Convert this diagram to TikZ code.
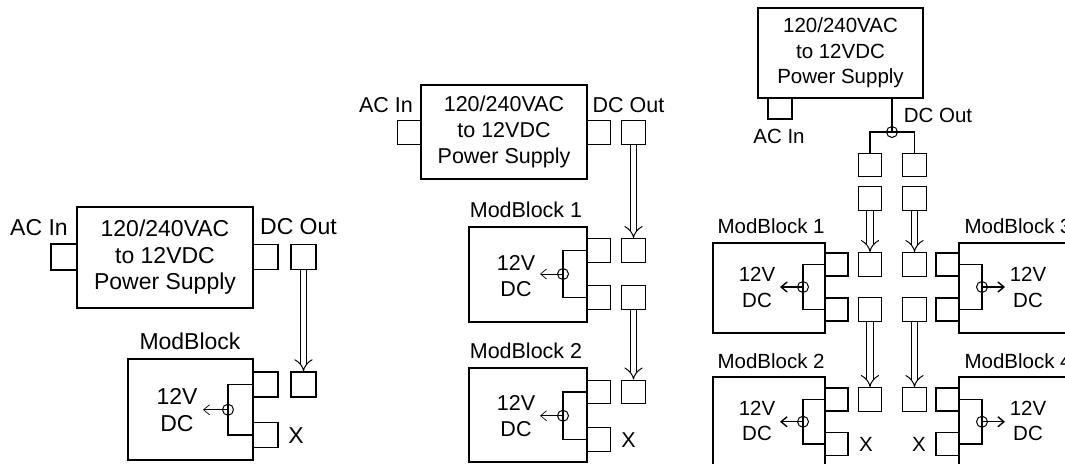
\documentclass[tikz,border=0pt]{standalone}
\usepackage{fontspec}
\setmainfont{Liberation Sans}
\usetikzlibrary{arrows.meta}

\tikzset{
  psbox/.style={draw, line width=1.3pt, align=center, inner sep=0pt},
  mbox/.style={draw, line width=1.3pt, inner sep=0pt},
  sock/.style={draw, line width=1.3pt, inner sep=0pt, minimum width=#1, minimum height=#1},
  jct/.style={draw, circle, line width=1pt, inner sep=0pt, minimum size=11pt},
  wire/.style={line width=1.3pt},
  feed/.style={double, double distance=5.5pt, line width=1pt, -{Implies[scale=1.1]}},
  tap/.style={line width=0.7pt, -{Straight Barb[length=6pt,width=10pt]}},
  tapC/.style={line width=1.4pt, -{Straight Barb[length=6pt,width=10pt]}},
  fA/.style={font=\fontsize{23}{26.5}\selectfont},
  fB/.style={font=\fontsize{21.5}{26}\selectfont},
  fC/.style={font=\fontsize{20.5}{25.5}\selectfont},
}

\begin{document}
\begin{tikzpicture}[x=1pt,y=-1pt]
\clip (0,0) rectangle (1065,463);

\node[psbox, fA, minimum width=176pt, minimum height=101pt] (ps1) at (165,257.5) {120/240VAC\\to 12VDC\\Power Supply};
\node[sock=26pt] (ac1) at (64,257) {};
\node[sock=25pt] (dc1) at (265.5,257) {};
\node[sock=25pt] (pl1a) at (303.5,257) {};
\node[fA, anchor=base] (acl1) at (39,235) {AC In};
\node[fA, anchor=base] (dcl1) at (298.5,234) {DC Out};

\node[mbox, minimum width=125pt, minimum height=101pt] (mb1) at (190.5,409.5) {};
\node[fA, anchor=base] (mbl1) at (190,349) {ModBlock};
\node[sock=25pt] (in1a) at (265.5,384.5) {};
\node[sock=25pt] (in1b) at (265.5,435) {};
\node[sock=25pt] (pl1b) at (303.5,384.5) {};
\node[fA] (x1) at (296,435.5) {X};
\node[jct] (j1) at (228,409.75) {};
\node[fA, align=center] (v1) at (177,410) {12V\\DC};
\coordinate (t1) at (203,409.75);
\draw[wire] (in1a.west) -| (j1.center) |- (in1b.west);
\draw[tap] (j1.center) -- (t1);
\draw[feed] (pl1a.south) -- (pl1b.north);

\node[psbox, fB, minimum width=166pt, minimum height=94pt] (ps2) at (504,132) {120/240VAC\\to 12VDC\\Power Supply};
\node[sock=23.5pt] (ac2) at (409,132.5) {};
\node[sock=23.5pt] (dc2) at (598.5,132.5) {};
\node[sock=23.5pt] (pl2a) at (633.5,132.5) {};
\node[fB, anchor=base] (acl2) at (386,112) {AC In};
\node[fB, anchor=base] (dcl2) at (628.5,112) {DC Out};

\node[mbox, minimum width=118pt, minimum height=95pt] (mb2a) at (528,274.5) {};
\node[fB, anchor=base] (mbl2a) at (526,217) {ModBlock 1};
\node[sock=23.5pt] (in2a) at (598.5,250.5) {};
\node[sock=23.5pt] (in2b) at (598.5,297.5) {};
\node[sock=23.5pt] (pl2b) at (633.5,250.5) {};
\node[sock=23.5pt] (pl2c) at (633.5,297.5) {};
\node[jct] (j2a) at (563,274) {};
\node[fB, align=center] (v2a) at (516,276) {12V\\DC};
\coordinate (t2a) at (540,274);
\draw[wire] (in2a.west) -| (j2a.center) |- (in2b.west);
\draw[tap] (j2a.center) -- (t2a);
\draw[feed] (pl2a.south) -- (pl2b.north);

\node[mbox, minimum width=118pt, minimum height=94pt] (mb2b) at (528,415) {};
\node[fB, anchor=base] (mbl2b) at (526,358) {ModBlock 2};
\node[sock=23.5pt] (in2c) at (598.5,392) {};
\node[sock=23.5pt] (in2d) at (598.5,439.5) {};
\node[sock=23.5pt] (pl2d) at (633.5,392) {};
\node[fB] (x2) at (628.5,440) {X};
\node[jct] (j2b) at (563,415.75) {};
\node[fB, align=center] (v2b) at (516,416) {12V\\DC};
\coordinate (t2b) at (540,415.75);
\draw[wire] (in2c.west) -| (j2b.center) |- (in2d.west);
\draw[tap] (j2b.center) -- (t2b);
\draw[feed] (pl2c.south) -- (pl2d.north);

\node[psbox, fC, minimum width=165pt, minimum height=90pt] (ps3) at (840.5,53) {120/240VAC\\to 12VDC\\Power Supply};
\node[sock=21pt, minimum width=24pt] (ac3) at (780,108.5) {};
\node[fC, anchor=base] (acl3) at (779,143) {AC In};
\node[fC, anchor=base] (dcl3) at (938,122) {DC Out};
\node[jct] (j0) at (892,132) {};
\node[sock=23.5pt] (q1) at (870,165) {};
\node[sock=23.5pt] (q2) at (914.5,165) {};
\node[sock=23.5pt] (q3) at (870,198.5) {};
\node[sock=23.5pt] (q4) at (914.5,198.5) {};
\node[sock=23.5pt] (q5) at (870,264.5) {};
\node[sock=23.5pt] (q6) at (914.5,264.5) {};
\node[sock=23.5pt] (q7) at (870,309.5) {};
\node[sock=23.5pt] (q8) at (914.5,309.5) {};
\node[sock=23.5pt] (q9) at (870,399.5) {};
\node[sock=23.5pt] (q10) at (914.5,399.5) {};
\draw[wire] (ps3.south -| j0) -- (j0.center);
\draw[wire] (q1.north) |- (j0.center) -| (q2.north);
\draw[feed] (q3.south) -- (q5.north);
\draw[feed] (q4.south) -- (q6.north);
\draw[feed] (q7.south) -- (q9.north);
\draw[feed] (q8.south) -- (q10.north);
\node[fC] (x3a) at (866,444.5) {X};
\node[fC] (x3b) at (919,444.5) {X};

\node[mbox, minimum width=112pt, minimum height=90pt] (mb3a) at (769,288) {};
\node[fC, anchor=base west] (mbl3a) at (714,233) {ModBlock 1};
\node[sock=23pt] (in3a) at (836.5,264.5) {};
\node[sock=23pt] (in3b) at (836.5,309.5) {};
\node[jct] (j3a) at (803,287) {};
\node[fC, align=center] (v3a) at (757,287.5) {12V\\DC};
\coordinate (t3a) at (780,287);
\draw[wire] (in3a.west) -| (j3a.center) |- (in3b.west);
\draw[tapC] (j3a.center) -- (t3a);

\node[mbox, minimum width=112pt, minimum height=90pt] (mb3b) at (769,422) {};
\node[fC, anchor=base west] (mbl3b) at (714,368) {ModBlock 2};
\node[sock=23pt] (in3c) at (836.5,399.5) {};
\node[sock=23pt] (in3d) at (836.5,444) {};
\node[jct] (j3b) at (803,421.75) {};
\node[fC, align=center] (v3b) at (757,421) {12V\\DC};
\coordinate (t3b) at (780,421.75);
\draw[wire] (in3c.west) -| (j3b.center) |- (in3d.west);
\draw[tapC] (j3b.center) -- (t3b);

\node[mbox, minimum width=112pt, minimum height=90pt] (mb3c) at (1015,288) {};
\node[fC, anchor=base west] (mbl3c) at (961,233) {ModBlock 3};
\node[sock=23pt] (in3e) at (947.5,264.5) {};
\node[sock=23pt] (in3f) at (947.5,309.5) {};
\node[jct] (j3c) at (982,287) {};
\node[fC, align=center] (v3c) at (1028,287.5) {12V\\DC};
\coordinate (t3c) at (1005,287);
\draw[wire] (in3e.east) -| (j3c.center) |- (in3f.east);
\draw[tapC] (j3c.center) -- (t3c);

\node[mbox, minimum width=112pt, minimum height=90pt] (mb3d) at (1015,422) {};
\node[fC, anchor=base west] (mbl3d) at (961,368) {ModBlock 4};
\node[sock=23pt] (in3g) at (947.5,399.5) {};
\node[sock=23pt] (in3h) at (947.5,444) {};
\node[jct] (j3d) at (982,421.75) {};
\node[fC, align=center] (v3d) at (1028,421) {12V\\DC};
\coordinate (t3d) at (1005,421.75);
\draw[wire] (in3g.east) -| (j3d.center) |- (in3h.east);
\draw[tapC] (j3d.center) -- (t3d);
\end{tikzpicture}
\end{document}
